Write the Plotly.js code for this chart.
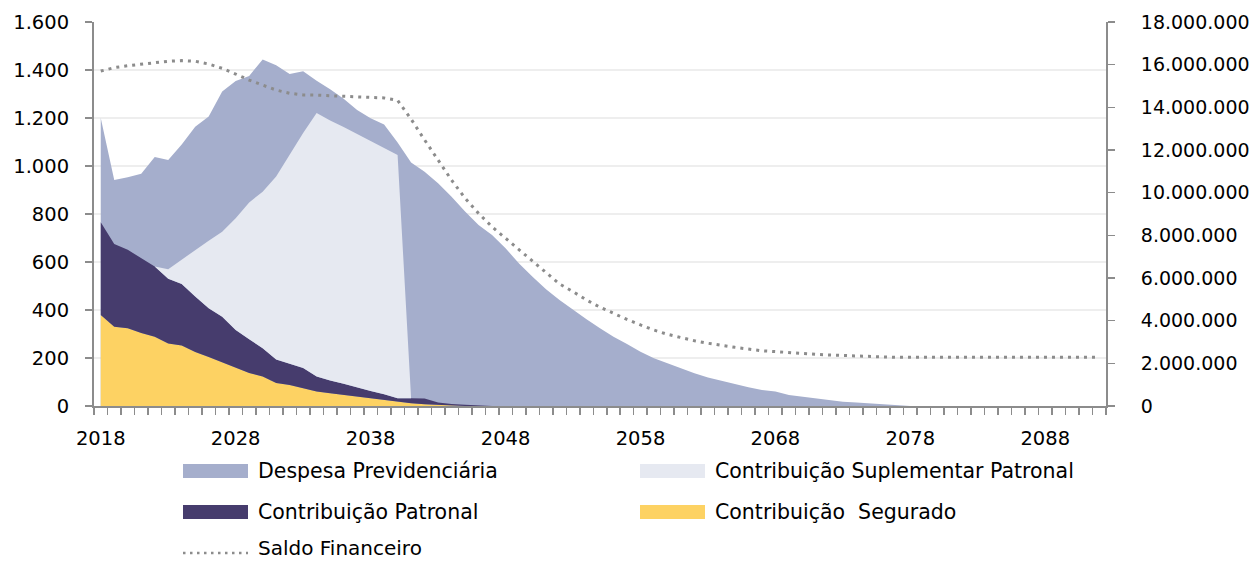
<!DOCTYPE html>
<html>
<head>
<meta charset="utf-8">
<script src="https://cdn.plot.ly/plotly-3.0.1.min.js"></script>
<style>
html, body { margin: 0; padding: 0; background: #fff; }
#chart { width: 1256px; height: 563px; }
</style>
</head>
<body>
<div id="chart"></div>
<script>
// ---- data ----
const years = [2018,2019,2020,2021,2022,2023,2024,2025,2026,2027,2028,2029,2030,2031,2032,2033,2034,2035,2036,2037,
  2038,2039,2040,2041,2042,2043,2044,2045,2046,2047,2048,2049,2050,2051,2052,2053,2054,2055,2056,2057,
  2058,2059,2060,2061,2062,2063,2064,2065,2066,2067,2068,2069,2070,2071,2072,2073,2074,2075,2076,2077,
  2078,2079,2080,2081,2082,2083,2084,2085,2086,2087,2088,2089,2090,2091,2092];

const despesa = [1200,942,953,968,1037,1025,1090,1164,1206,1310,1354,1375,1444,1420,1383,1395,1355,1320,1280,1233,
  1199,1173,1098,1015,976,928,872,810,754,712,657,594,539,486,442,400,361,324,289,258,
  226,199,178,157,136,119,105,92,78,67,60,46,39,32,25,18,15,11,7,3,
  0,0,0,0,0,0,0,0,0,0,0,0,0,0,0];

const contribSegurado = [379,330,324,304,289,260,252,225,204,183,162,138,123,96,88,74,60,53,46,37,
  30,23,16,11,7,4,2,0,0,0,0,0,0,0,0,0,0,0,0,0,
  0,0,0,0,0,0,0,0,0,0,0,0,0,0,0,0,0,0,0,0,
  0,0,0,0,0,0,0,0,0,0,0,0,0,0,0];

const contribPatronal = [387,345,327,313,292,270,256,231,203,189,155,140,118,98,87,84,63,53,47,39,
  32,26,16,21,24,11,6,5,2,0,0,0,0,0,0,0,0,0,0,0,
  0,0,0,0,0,0,0,0,0,0,0,0,0,0,0,0,0,0,0,0,
  0,0,0,0,0,0,0,0,0,0,0,0,0,0,0];

const contribSuplementar = [0,0,0,0,0,40,102,196,282,354,465,570,652,762,874,980,1098,1084,1070,1058,
  1042,1026,1014,0,0,0,0,0,0,0,0,0,0,0,0,0,0,0,0,0,
  0,0,0,0,0,0,0,0,0,0,0,0,0,0,0,0,0,0,0,0,
  0,0,0,0,0,0,0,0,0,0,0,0,0,0,0];

const saldoFinanceiro = [15700000,15860000,15950000,16030000,16110000,16160000,16190000,16160000,16030000,15830000,
  15560000,15280000,15040000,14810000,14660000,14580000,14570000,14550000,14530000,14490000,
  14460000,14440000,14330000,13450000,12470000,11530000,10590000,9740000,9030000,8400000,
  7860000,7310000,6760000,6220000,5720000,5360000,4970000,4630000,4340000,4060000,
  3800000,3560000,3360000,3200000,3060000,2940000,2830000,2750000,2670000,2590000,
  2550000,2500000,2470000,2420000,2390000,2370000,2340000,2300000,2290000,2280000,
  2280000,2280000,2280000,2280000,2280000,2280000,2280000,2280000,2280000,2280000,
  2280000,2280000,2280000,2280000,2280000];

const xTickVals = [2018,2028,2038,2048,2058,2068,2078,2088];
const xTickText = ['2018','2028','2038','2048','2058','2068','2078','2088'];

const seriesNames = ['Despesa Previdenciária','Contribuição Suplementar Patronal','Contribuição Patronal','Contribuição  Segurado','Saldo Financeiro'];

// ---- styling ----
const C_DESP = '#a5aecc';
const C_SUPL = '#e6e9f1';
const C_PATR = '#463c6d';
const C_SEG  = '#fdd263';
const C_SALDO = '#8c8c8c';
const AXIS = '#8c8c8c';
const FONT = 'DejaVu Sans, Verdana, sans-serif';

const W = 1256, H = 563;
const M = {l: 94, r: 150, t: 22, b: 157};
const PW = W - M.l - M.r, PH = H - M.t - M.b;
const px = v => (v - M.l) / PW;
const py = v => (H - M.b - v) / PH;

const traces = [
  {x: years, y: despesa, type: 'scatter', mode: 'lines', fill: 'tozeroy',
   fillcolor: C_DESP, line: {width: 0, color: C_DESP}, name: seriesNames[0], showlegend: false, hoverinfo: 'skip'},
  {x: years, y: contribSegurado, type: 'scatter', mode: 'lines', stackgroup: 'c',
   fillcolor: C_SEG, line: {width: 0, color: C_SEG}, name: seriesNames[3], showlegend: false, hoverinfo: 'skip'},
  {x: years, y: contribPatronal, type: 'scatter', mode: 'lines', stackgroup: 'c',
   fillcolor: C_PATR, line: {width: 0, color: C_PATR}, name: seriesNames[2], showlegend: false, hoverinfo: 'skip'},
  {x: years, y: contribSuplementar, type: 'scatter', mode: 'lines', stackgroup: 'c',
   fillcolor: C_SUPL, line: {width: 0, color: C_SUPL}, name: seriesNames[1], showlegend: false, hoverinfo: 'skip'},
  {x: years, y: saldoFinanceiro, type: 'scatter', mode: 'lines', yaxis: 'y2',
   line: {width: 3, color: C_SALDO, dash: '3px,5px'}, name: seriesNames[4], showlegend: false, hoverinfo: 'skip'}
];

// manual legend (swatches + labels)
const LEG_FONT = {family: FONT, size: 20.5, color: '#000'};
const shapes = [];
const annotations = [];
function swatch(x0, yc, color, label) {
  shapes.push({type: 'rect', xref: 'paper', yref: 'paper',
    x0: px(x0), x1: px(x0 + 65), y0: py(yc - 7), y1: py(yc + 7),
    fillcolor: color, line: {width: 0}});
  annotations.push({xref: 'paper', yref: 'paper', x: px(x0 + 73), y: py(yc),
    xanchor: 'left', yanchor: 'middle', showarrow: false, text: label, font: LEG_FONT});
}
swatch(183, 471, C_DESP, seriesNames[0]);
swatch(640, 471, C_SUPL, seriesNames[1]);
swatch(183, 512, C_PATR, seriesNames[2]);
swatch(640, 512, C_SEG, seriesNames[3]);
shapes.push({type: 'line', xref: 'paper', yref: 'paper',
  x0: px(183), x1: px(248), y0: py(553), y1: py(553),
  line: {color: C_SALDO, width: 2.5, dash: '2.5px,4.5px'}});
annotations.push({xref: 'paper', yref: 'paper', x: px(256), y: py(548),
  xanchor: 'left', yanchor: 'middle', showarrow: false, text: seriesNames[4],
  font: {family: FONT, size: 20, color: '#000'}});

const layout = {
  width: W, height: H,
  margin: M,
  paper_bgcolor: '#fff', plot_bgcolor: '#fff',
  separators: ',.',
  showlegend: false,
  font: {family: FONT, size: 19, color: '#000'},
  xaxis: {
    range: [2017.5, 2092.5], tickmode: 'array', tickvals: xTickVals, ticktext: xTickText,
    ticks: '', showgrid: false, zeroline: false,
    showline: true, linecolor: AXIS, linewidth: 2,
    ticklabelstandoff: 14,
    tickfont: {family: FONT, size: 19.5, color: '#000'},
    minor: {tickmode: 'linear', tick0: 2017.5, dtick: 1, ticks: 'outside', ticklen: 7, tickwidth: 1.5, tickcolor: AXIS, showgrid: false},
    automargin: false, fixedrange: true
  },
  yaxis: {
    range: [0, 1600], tickmode: 'linear', tick0: 0, dtick: 200, tickformat: ',d',
    ticks: 'outside', ticklen: 7, tickwidth: 1.5, tickcolor: AXIS,
    showline: true, linecolor: AXIS, linewidth: 2,
    showgrid: true, gridcolor: '#eeeeee', gridwidth: 2, zeroline: false,
    ticklabelstandoff: 12,
    tickfont: {family: FONT, size: 19.5, color: '#000'},
    automargin: false, fixedrange: true
  },
  yaxis2: {
    overlaying: 'y', side: 'right',
    range: [0, 18000000], tickmode: 'linear', tick0: 0, dtick: 2000000, tickformat: ',d',
    ticks: 'outside', ticklen: 7, tickwidth: 1.5, tickcolor: AXIS,
    showline: true, linecolor: AXIS, linewidth: 2,
    showgrid: false, zeroline: false,
    ticklabelstandoff: 22,
    tickfont: {family: FONT, size: 19, color: '#000'},
    automargin: false, fixedrange: true
  },
  shapes: shapes,
  annotations: annotations
};

Plotly.newPlot('chart', traces, layout, {displayModeBar: false, staticPlot: true});
</script>
</body>
</html>
